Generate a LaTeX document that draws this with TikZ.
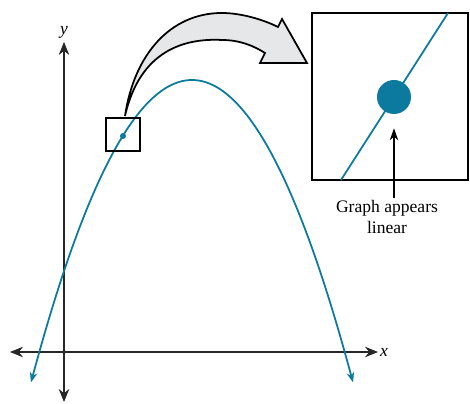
\documentclass[tikz,border=0pt]{standalone}
\usepackage{fontspec}
\setmainfont{Liberation Serif}
\usetikzlibrary{arrows.meta}
\definecolor{curveblue}{HTML}{0B7A9E}
\definecolor{arrowgrey}{HTML}{E6E7E8}

\begin{document}
\begin{tikzpicture}[
  x=0.02cm, y=-0.02cm,
  axis/.style={draw, line width=0.6pt, black!85, {Stealth[length=2.6mm, width=2.1mm]}-{Stealth[length=2.6mm, width=2.1mm]}},
  curve/.style={draw=curveblue, line width=1pt, {Stealth[length=2mm, width=1.5mm]}-{Stealth[length=2mm, width=1.5mm]}},
  frame/.style={draw, line width=1pt, inner sep=0pt},
  ptr/.style={draw, line width=0.8pt, -{Stealth[length=2.4mm, width=1.7mm]}},
  lab/.style={font=\itshape, inner sep=1pt},
  bigarrow/.style={draw, line width=1pt, fill=arrowgrey, line join=miter},
]
  \useasboundingbox (0,0) rectangle (470,404);

  % axes
  \coordinate (xl) at (10,352);
  \coordinate (xr) at (378,352);
  \coordinate (yt) at (64,42);
  \coordinate (yb) at (64,402);
  \draw[axis] (xl) -- (xr);
  \draw[axis] (yb) -- (yt);
  \node[lab, right] (xlab) at (xr) {x};
  \node[lab, above=1pt] (ylab) at (yt) {y};

  % parabola
  \draw[curve] plot[domain=31:353, samples=80] (\x, {80+(0.108*(\x-192))^2});

  % small window on the curve
  \node[frame, minimum width=0.68cm, minimum height=0.66cm] (win) at (123,134.5) {};
  \fill[curveblue] (123,136) circle (3);

  % curved grey arrow
  \path[bigarrow] (125,116) .. controls (134,55) and (170,13) .. (222,13)
    .. controls (240,13) and (262,19) .. (278,27)
    -- (282,19) -- (307,63) -- (260,63) -- (265,53)
    .. controls (254,46) and (240,40) .. (222,40)
    .. controls (185,38) and (140,50) .. (125,116) -- cycle;

  % magnified view
  \node[frame, minimum width=3.12cm, minimum height=3.34cm] (zoom) at (390,96.5) {};
  \draw[curveblue, line width=1pt] (341,180) -- (448,13);
  \node[circle, fill=curveblue, minimum size=0.68cm, inner sep=0pt] (bigdot) at (394,97) {};

  \node[align=center, inner sep=1pt] (note) at (387,217) {Graph appears\\linear};
  \draw[ptr, shorten >=0.28cm] (note.north -| bigdot.south) -- (bigdot.south);
\end{tikzpicture}
\end{document}
